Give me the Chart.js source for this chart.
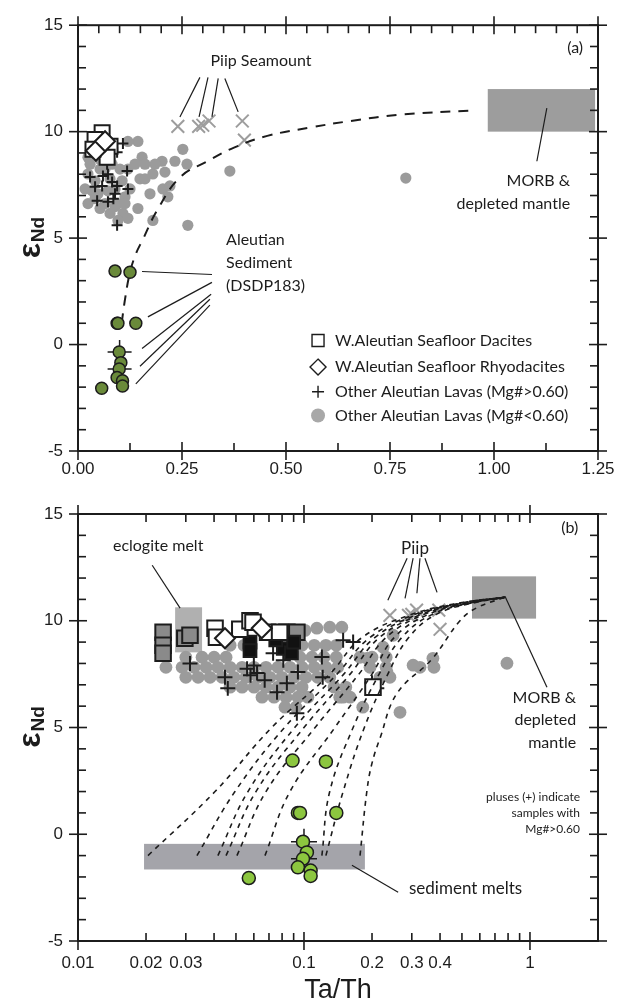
<!DOCTYPE html>
<html>
<head>
<meta charset="utf-8">
<script src="https://cdn.jsdelivr.net/npm/chart.js@4/dist/chart.umd.min.js"></script>
<style>
  html, body { margin: 0; background: #fff; }
  #wrap { position: relative; width: 627px; height: 1004px; }
  canvas { position: absolute; left: 0; }
</style>
</head>
<body>
<div id="wrap">
  <canvas id="chartA" width="627" height="480" style="top:0"></canvas>
  <canvas id="chartB" width="627" height="524" style="top:480px"></canvas>
</div>
<script>
// ── data ─────────────────────────────────────────────────────────

// shared between both panels
const sed_x = [0.089, 0.125, 0.094, 0.096, 0.139, 0.099, 0.103, 0.099, 0.094, 0.107, 0.107, 0.057];
const sed_y = [3.45, 3.4, 1.0, 1.0, 1.0, -0.35, -0.85, -1.15, -1.55, -1.7, -1.95, -2.05];
const sedAvg_x = [0.1, 0.1];
const sedAvg_y = [-0.35, -1.15];
const piip_x = [0.24, 0.29, 0.30, 0.315, 0.395, 0.40];
const piip_y = [10.25, 10.25, 10.3, 10.5, 10.5, 9.6];

// panel (a), linear Ta/Th
const dacA_x = [0.058, 0.041, 0.077, 0.070, 0.036];
const dacA_y = [9.95, 9.63, 9.31, 8.80, 9.17];
const rhyA_x = [0.043, 0.065];
const rhyA_y = [9.1, 9.55];
const plusA_x = [0.108, 0.094, 0.118, 0.120, 0.029, 0.060, 0.041, 0.058, 0.094, 0.089, 0.046, 0.072, 0.094, 0.072, 0.070, 0.082, 0.085];
const plusA_y = [9.44, 9.03, 8.15, 7.31, 7.87, 7.92, 7.41, 7.45, 7.45, 7.08, 6.76, 6.71, 5.60, 8.0, 8.47, 7.64, 6.85];
const grayA_x = [0.144, 0.120, 0.252, 0.154, 0.202, 0.233, 0.262, 0.180, 0.209, 0.149, 0.204, 0.221, 0.216, 0.144, 0.180,
  0.264, 0.108, 0.096, 0.048, 0.041, 0.065, 0.106, 0.082, 0.113, 0.024, 0.034, 0.072, 0.096, 0.120, 0.137, 0.089,
  0.053, 0.077, 0.024, 0.365, 0.788,
  0.029, 0.053, 0.041, 0.053, 0.077, 0.113, 0.125, 0.101, 0.065, 0.089, 0.017, 0.024, 0.120, 0.173, 0.161, 0.185, 0.161];
const grayA_y = [9.54, 9.54, 9.17, 8.80, 8.61, 8.61, 8.47, 8.01, 8.10, 7.78, 7.31, 7.45, 6.94, 6.39, 5.83,
  5.60, 6.16, 5.83, 7.08, 7.69, 6.62, 7.69, 8.47, 6.94, 8.01, 7.22, 7.22, 6.62, 8.24, 8.47, 6.48,
  8.24, 7.78, 8.8, 8.15, 7.82,
  8.47, 8.70, 6.85, 6.39, 6.16, 6.62, 7.31, 8.24, 8.24, 7.31, 7.31, 6.62, 5.93, 7.08, 7.78, 8.47, 8.47];
const mixA_x = [0.105, 0.112, 0.125, 0.14, 0.155, 0.19, 0.245, 0.31, 0.375, 0.455, 0.56, 0.655, 0.775, 0.95];
const mixA_y = [1.0, 2.0, 3.4, 4.3, 4.9, 6.3, 7.85, 8.6, 9.25, 9.8, 10.2, 10.5, 10.8, 11.0];
const morbBoxA = [0.985, 1.243, 10, 12];   // x0, x1, y0, y1

// panel (b), log Ta/Th
const dacB_x = [0.0404, 0.041, 0.052, 0.0577, 0.0595, 0.069, 0.078, 0.202];
const dacB_y = [9.65, 9.23, 9.6, 10.0, 9.93, 9.46, 9.46, 6.89];
const dacGrayB_x = [0.0238, 0.0238, 0.0238, 0.0297, 0.0313, 0.084, 0.093];
const dacGrayB_y = [9.46, 8.85, 8.48, 9.18, 9.32, 9.46, 9.46];
const dacBlackB_x = [0.0577, 0.0577, 0.081, 0.088, 0.09, 0.075];
const dacBlackB_y = [9.0, 8.6, 8.7, 8.5, 9.0, 9.1];
const rhyB_x = [0.0447, 0.065];
const rhyB_y = [9.18, 9.65];
const plusB_x = [0.0313, 0.0447, 0.046, 0.056, 0.060, 0.062, 0.058, 0.067, 0.076, 0.084, 0.094,
  0.081, 0.073, 0.093, 0.12, 0.121, 0.149, 0.165, 0.2, 0.21];
const plusB_y = [8.0, 7.35, 6.84, 7.75, 7.9, 7.55, 7.45, 7.21, 6.65, 7.07, 7.6,
  8.15, 8.48, 5.67, 8.3, 7.35, 9.09, 9.0, 7.1, 6.84];
const grayB_x = [
  0.0471, 0.0543, 0.098, 0.111, 0.125, 0.139,
  0.030, 0.0354, 0.040, 0.0452, 0.096, 0.1085, 0.1226, 0.139, 0.177, 0.200, 0.231,
  0.0245, 0.0289, 0.0326, 0.0369, 0.0416, 0.0471, 0.0532, 0.0601, 0.0679, 0.0767, 0.0867, 0.098, 0.111, 0.125,
  0.141, 0.196, 0.231, 0.326, 0.376,
  0.030, 0.034, 0.0384, 0.0434, 0.049, 0.0554, 0.0626, 0.0707, 0.0799, 0.0903, 0.102, 0.115, 0.130, 0.217, 0.240,
  0.0471, 0.0532, 0.0601, 0.0679, 0.0767, 0.0867, 0.098, 0.136, 0.153,
  0.0652, 0.0737, 0.0833, 0.0941, 0.104, 0.144, 0.160,
  0.0824, 0.0922,
  0.248, 0.224, 0.190, 0.304, 0.372, 0.233, 0.149, 0.182, 0.266,
  0.101, 0.114, 0.130, 0.147, 0.791];
const grayB_y = [
  8.85, 8.85, 8.85, 8.85, 8.85, 8.85,
  8.29, 8.29, 8.29, 8.29, 8.29, 8.29, 8.29, 8.29, 8.29, 8.29, 8.29,
  7.82, 7.82, 7.82, 7.82, 7.82, 7.82, 7.82, 7.82, 7.82, 7.82, 7.82, 7.82, 7.82, 7.82,
  7.82, 7.82, 7.82, 7.82, 7.82,
  7.35, 7.35, 7.35, 7.35, 7.35, 7.35, 7.35, 7.35, 7.35, 7.35, 7.35, 7.35, 7.35, 7.35, 7.35,
  6.89, 6.89, 6.89, 6.89, 6.89, 6.89, 6.89, 6.89, 6.89,
  6.42, 6.42, 6.42, 6.42, 6.42, 6.42, 6.42,
  5.95, 5.95,
  9.32, 8.76, 8.24, 7.92, 8.24, 7.59, 6.42, 5.95, 5.71,
  9.55, 9.65, 9.70, 9.70, 8.01];
// mixing curves: sediment melt -> MORB, sharing these εNd levels
const mixB_y = [-1, 2, 5, 7.5, 9.2, 10.3, 10.85, 11.1];
const mixB1_x = [0.0204, 0.0404, 0.072, 0.13, 0.18, 0.30, 0.50, 0.775];
const mixB2_x = [0.0336, 0.0495, 0.082, 0.14, 0.195, 0.31, 0.51, 0.775];
const mixB3_x = [0.0416, 0.0565, 0.091, 0.15, 0.205, 0.32, 0.52, 0.775];
const mixB4_x = [0.0452, 0.0613, 0.100, 0.16, 0.215, 0.33, 0.53, 0.775];
const mixB5_x = [0.0505, 0.0679, 0.112, 0.175, 0.23, 0.34, 0.54, 0.775];
const mixB6_x = [0.0672, 0.0867, 0.137, 0.20, 0.25, 0.355, 0.55, 0.775];
const mixB7_x = [0.120, 0.130, 0.165, 0.215, 0.27, 0.37, 0.56, 0.775];
const mixB8_x = [0.125, 0.149, 0.185, 0.235, 0.29, 0.385, 0.57, 0.775];
const mixB9_x = [0.177, 0.19, 0.20, 0.217, 0.258, 0.368, 0.49, 0.58, 0.775];
const mixB9_y = [-1, 2.06, 3.33, 4.5, 6.6, 8.2, 10.0, 10.6, 11.1];
const eclogiteBoxB = [0.0269, 0.0354, 8.52, 10.63];
const morbBoxB = [0.554, 1.064, 10.1, 12.08];
const sedMeltBoxB = [0.0196, 0.186, -1.65, -0.45];

// axis ticks
const yTicks = [15, 10, 5, 0, -5];
const xLabelsB = [0.01, 0.02, 0.03, 0.1, 0.2, 0.3, 0.4, 1];

// ── helpers ──────────────────────────────────────────────────────

const pts = (xs, ys) => xs.map((x, i) => ({ x, y: ys[i] }));
const range = (a, b, step) => { const out = []; for (let v = a; v <= b + 1e-9; v += step) out.push(+v.toFixed(4)); return out; };
const INK = "#1c1c1c";
const NOTE_FONT = "Lato";

// frame on all four sides, ticks pointing in, major ticks crossing the line
const frameTicks = {
  id: "frameTicks",
  afterDatasetsDraw(chart, _args, o) {
    const { ctx, chartArea: a, scales: { x, y } } = chart;
    const seg = (x0, y0, x1, y1) => { ctx.beginPath(); ctx.moveTo(x0, y0); ctx.lineTo(x1, y1); ctx.stroke(); };
    ctx.save();
    ctx.strokeStyle = INK;
    ctx.lineWidth = 2;
    ctx.strokeRect(a.left, a.top, a.right - a.left, a.bottom - a.top);
    ctx.lineWidth = 1.6;
    const L = 8, M = 9;
    o.xMinorBottom.forEach((v) => { const p = x.getPixelForValue(v); seg(p, a.bottom, p, a.bottom - L); });
    o.xMinorTop.forEach((v) => { const p = x.getPixelForValue(v); seg(p, a.top, p, a.top + L); });
    o.xMajor.forEach((v) => {
      const p = x.getPixelForValue(v);
      seg(p, a.bottom + M, p, a.bottom - M);
      seg(p, a.top - M, p, a.top + M);
    });
    o.yMinor.forEach((v) => { const p = y.getPixelForValue(v); seg(a.left, p, a.left + L, p); seg(a.right, p, a.right - L, p); });
    o.yMajor.forEach((v) => {
      const p = y.getPixelForValue(v);
      seg(a.left - M, p, a.left + M, p);
      seg(a.right - M, p, a.right + M, p);
    });
    ctx.restore();
  },
};

// shaded end-member fields, under the points
const fields = {
  id: "fields",
  beforeDatasetsDraw(chart, _args, o) {
    const { ctx, scales: { x, y } } = chart;
    ctx.save();
    o.boxes.forEach(({ ext, color }) => {
      const x0 = x.getPixelForValue(ext[0]), x1 = x.getPixelForValue(ext[1]);
      const y0 = y.getPixelForValue(ext[2]), y1 = y.getPixelForValue(ext[3]);
      ctx.fillStyle = color;
      ctx.fillRect(x0, y1, x1 - x0, y0 - y1);
    });
    ctx.restore();
  },
};

// labels + leader lines, placed in data units
const notes = {
  id: "notes",
  afterDatasetsDraw(chart, _args, o) {
    const { ctx, scales: { x, y } } = chart;
    ctx.save();
    ctx.strokeStyle = INK;
    ctx.lineWidth = 1.2;
    o.leaders.forEach(([x0, y0, x1, y1]) => {
      ctx.beginPath();
      ctx.moveTo(x.getPixelForValue(x0), y.getPixelForValue(y0));
      ctx.lineTo(x.getPixelForValue(x1), y.getPixelForValue(y1));
      ctx.stroke();
    });
    ctx.fillStyle = INK;
    ctx.textBaseline = "middle";
    o.texts.forEach(([str, vx, vy, align, size]) => {
      ctx.font = `${size}px ${NOTE_FONT}`;
      ctx.textAlign = align;
      ctx.fillText(str, x.getPixelForValue(vx), y.getPixelForValue(vy));
    });
    (o.legend || []).forEach(({ sym, label, y: vy }) => {
      const sx = x.getPixelForValue(o.legendX[0]);
      const tx = x.getPixelForValue(o.legendX[1]);
      const py = y.getPixelForValue(vy);
      ctx.lineWidth = 1.4;
      ctx.strokeStyle = INK;
      ctx.beginPath();
      if (sym === "square") ctx.rect(sx - 6, py - 6, 12, 12);
      if (sym === "diamond") { ctx.moveTo(sx, py - 8); ctx.lineTo(sx + 8, py); ctx.lineTo(sx, py + 8); ctx.lineTo(sx - 8, py); ctx.closePath(); }
      if (sym === "plus") { ctx.moveTo(sx - 6, py); ctx.lineTo(sx + 6, py); ctx.moveTo(sx, py - 6); ctx.lineTo(sx, py + 6); }
      if (sym === "dot") { ctx.fillStyle = "#a8a8a8"; ctx.arc(sx, py, 7, 0, Math.PI * 2); ctx.fill(); }
      else ctx.stroke();
      ctx.fillStyle = INK;
      ctx.font = `16px ${NOTE_FONT}`;
      ctx.textAlign = "left";
      ctx.fillText(label, tx, py);
    });
    ctx.restore();
  },
};

// εNd with a subscript, rotated
const yTitle = {
  id: "yTitle",
  afterDraw(chart) {
    const { ctx, chartArea: a } = chart;
    const cy = (a.top + a.bottom) / 2;
    ctx.save();
    ctx.translate(40, cy);
    ctx.rotate(-Math.PI / 2);
    ctx.fillStyle = INK;
    ctx.textBaseline = "alphabetic";
    ctx.font = "bold 32px 'Liberation Sans'";
    const we = ctx.measureText("ε").width;
    ctx.font = "bold 19px 'Liberation Sans'";
    const wn = ctx.measureText("Nd").width;
    const start = -(we + wn) / 2;
    ctx.font = "bold 32px 'Liberation Sans'";
    ctx.textAlign = "left";
    ctx.fillText("ε", start, 0);
    ctx.font = "bold 19px 'Liberation Sans'";
    ctx.fillText("Nd", start + we + 1, 4);
    ctx.restore();
  },
};

const tickFont = { family: "'Liberation Sans', Arial, sans-serif", size: 17 };

function yScale() {
  return {
    min: -5, max: 15,
    afterBuildTicks: (s) => { s.ticks = yTicks.map((v) => ({ value: v })); },
    afterFit: (s) => { s.width = 78; },
    grid: { display: false, drawTicks: false },
    border: { display: false },
    ticks: { color: INK, font: tickFont, padding: 15 },
  };
}

function scatterSet(data, style, order) {
  return Object.assign({ data, order, borderWidth: 0, pointHoverRadius: 0 }, style);
}

function curve(data, dash, width, order) {
  return { data, order, showLine: true, pointRadius: 0, borderColor: INK, borderWidth: width, borderDash: dash, tension: 0.4, fill: false };
}

// ── panel (a) ────────────────────────────────────────────────────

new Chart(document.getElementById("chartA"), {
  type: "scatter",
  data: {
    datasets: [
      scatterSet(pts(sed_x, sed_y), { pointStyle: "circle", pointRadius: 6, backgroundColor: "#6a8a3a", borderColor: INK, borderWidth: 1.5 }, 0),
      scatterSet(pts(sedAvg_x, sedAvg_y), { pointStyle: "cross", pointRadius: 12, borderColor: INK, borderWidth: 1.5 }, 1),
      curve(pts(mixA_x, mixA_y), [10, 8], 2, 2),
      scatterSet(pts(rhyA_x, rhyA_y), { pointStyle: "rectRot", pointRadius: 10, backgroundColor: "#fff", borderColor: INK, borderWidth: 2 }, 3),
      scatterSet(pts(dacA_x, dacA_y), { pointStyle: "rect", pointRadius: 10.6, backgroundColor: "#fff", borderColor: INK, borderWidth: 2 }, 4),
      scatterSet(pts(plusA_x, plusA_y), { pointStyle: "cross", pointRadius: 5.5, borderColor: INK, borderWidth: 2 }, 5),
      scatterSet(pts(piip_x, piip_y), { pointStyle: "crossRot", pointRadius: 9, borderColor: "#9d9d9d", borderWidth: 2 }, 6),
      scatterSet(pts(grayA_x, grayA_y), { pointStyle: "circle", pointRadius: 5.6, backgroundColor: "#9b9b9b" }, 7),
    ],
  },
  options: {
    responsive: false,
    animation: false,
    events: [],
    layout: { padding: { top: 19, right: 29, left: 0, bottom: 0 } },
    scales: {
      x: {
        type: "linear", min: 0, max: 1.25,
        afterBuildTicks: (s) => { s.ticks = range(0, 1.25, 0.25).map((v) => ({ value: v })); },
        afterFit: (s) => { s.height = 29; },
        grid: { display: false, drawTicks: false },
        border: { display: false },
        ticks: { color: INK, font: tickFont, padding: 8, maxRotation: 0, callback: (v) => Number(v).toFixed(2) },
      },
      y: yScale(),
    },
    plugins: {
      legend: { display: false },
      tooltip: { enabled: false },
      frameTicks: {
        xMajor: range(0, 1.25, 0.25),
        xMinorBottom: range(0.125, 1.125, 0.25),
        xMinorTop: range(0.05, 1.2, 0.05).filter((v) => Math.abs(v / 0.25 - Math.round(v / 0.25)) > 1e-6),
        yMajor: [15, 10, 5, 0, -5],
        yMinor: range(-4, 14, 1).filter((v) => v % 5 !== 0),
      },
      fields: { boxes: [{ ext: morbBoxA, color: "#9d9d9d" }] },
      notes: {
        texts: [
          ["Piip Seamount", 0.44, 13.33, "center", 16],
          ["(a)", 1.195, 13.94, "center", 16],
          ["MORB &", 1.183, 7.69, "right", 16],
          ["depleted mantle", 1.183, 6.62, "right", 16],
          ["Aleutian", 0.356, 4.91, "left", 16],
          ["Sediment", 0.356, 3.84, "left", 16],
          ["(DSDP183)", 0.356, 2.78, "left", 16],
        ],
        leaders: [
          [0.293, 12.55, 0.245, 10.69], [0.3125, 12.55, 0.291, 10.69], [0.337, 12.5, 0.322, 10.69], [0.353, 12.5, 0.385, 10.93],
          [1.127, 11.11, 1.103, 8.61],
          [0.322, 3.29, 0.154, 3.43], [0.322, 2.92, 0.168, 1.3], [0.32, 2.36, 0.154, -0.19],
          [0.317, 2.13, 0.149, -1.02], [0.317, 1.85, 0.139, -1.85],
        ],
        legendX: [0.577, 0.618],
        legend: [
          { sym: "square", label: "W.Aleutian Seafloor Dacites", y: 0.19 },
          { sym: "diamond", label: "W.Aleutian Seafloor Rhyodacites", y: -1.06 },
          { sym: "plus", label: "Other Aleutian Lavas (Mg#>0.60)", y: -2.22 },
          { sym: "dot", label: "Other Aleutian Lavas (Mg#<0.60)", y: -3.33 },
        ],
      },
    },
  },
  plugins: [fields, notes, frameTicks, yTitle],
});

// ── panel (b) ────────────────────────────────────────────────────

const mixDash = [5, 5];
new Chart(document.getElementById("chartB"), {
  type: "scatter",
  data: {
    datasets: [
      scatterSet(pts(sed_x, sed_y), { pointStyle: "circle", pointRadius: 6.5, backgroundColor: "#8cc63f", borderColor: INK, borderWidth: 1.5 }, 0),
      scatterSet(pts(sedAvg_x, sedAvg_y), { pointStyle: "cross", pointRadius: 13, borderColor: INK, borderWidth: 1.5 }, 1),
      curve(pts(mixB1_x, mixB_y), mixDash, 1.6, 2),
      curve(pts(mixB2_x, mixB_y), mixDash, 1.6, 2),
      curve(pts(mixB3_x, mixB_y), mixDash, 1.6, 2),
      curve(pts(mixB4_x, mixB_y), mixDash, 1.6, 2),
      curve(pts(mixB5_x, mixB_y), mixDash, 1.6, 2),
      curve(pts(mixB6_x, mixB_y), mixDash, 1.6, 2),
      curve(pts(mixB7_x, mixB_y), mixDash, 1.6, 2),
      curve(pts(mixB8_x, mixB_y), mixDash, 1.6, 2),
      curve(pts(mixB9_x, mixB9_y), mixDash, 1.6, 2),
      scatterSet(pts(rhyB_x, rhyB_y), { pointStyle: "rectRot", pointRadius: 10, backgroundColor: "#fff", borderColor: INK, borderWidth: 2 }, 3),
      scatterSet(pts(dacB_x, dacB_y), { pointStyle: "rect", pointRadius: 11, backgroundColor: "#fff", borderColor: INK, borderWidth: 2 }, 4),
      scatterSet(pts(dacBlackB_x, dacBlackB_y), { pointStyle: "rect", pointRadius: 9, backgroundColor: "#111", borderColor: INK, borderWidth: 2 }, 4),
      scatterSet(pts(dacGrayB_x, dacGrayB_y), { pointStyle: "rect", pointRadius: 11, backgroundColor: "#8a8a8a", borderColor: INK, borderWidth: 2 }, 4),
      scatterSet(pts(plusB_x, plusB_y), { pointStyle: "cross", pointRadius: 7.5, borderColor: INK, borderWidth: 2 }, 5),
      scatterSet(pts(piip_x, piip_y), { pointStyle: "crossRot", pointRadius: 9, borderColor: "#9d9d9d", borderWidth: 2 }, 6),
      scatterSet(pts(grayB_x, grayB_y), { pointStyle: "circle", pointRadius: 6.4, backgroundColor: "#9b9b9b" }, 7),
    ],
  },
  options: {
    responsive: false,
    animation: false,
    events: [],
    layout: { padding: { top: 34, right: 29, left: 0, bottom: 0 } },
    scales: {
      x: {
        type: "logarithmic", min: 0.01, max: 2,
        afterBuildTicks: (s) => { s.ticks = xLabelsB.map((v) => ({ value: v })); },
        afterFit: (s) => { s.height = 63; },
        grid: { display: false, drawTicks: false },
        border: { display: false },
        ticks: { color: INK, font: tickFont, padding: 12, maxRotation: 0, autoSkip: false, callback: (v) => String(v) },
        title: { display: true, text: "Ta/Th", color: INK, font: { family: "'Liberation Sans', Arial, sans-serif", size: 27 }, padding: { top: 0, bottom: -3 } },
      },
      y: yScale(),
    },
    plugins: {
      legend: { display: false },
      tooltip: { enabled: false },
      frameTicks: {
        xMajor: [0.01, 0.1, 1],
        xMinorBottom: [0.02, 0.03, 0.04, 0.05, 0.06, 0.07, 0.08, 0.09, 0.2, 0.3, 0.4, 0.5, 0.6, 0.7, 0.8, 0.9],
        xMinorTop: [0.02, 0.03, 0.04, 0.05, 0.06, 0.07, 0.08, 0.09, 0.2, 0.3, 0.4, 0.5, 0.6, 0.7, 0.8, 0.9],
        yMajor: [15, 10, 5, 0, -5],
        yMinor: range(-4, 14, 1).filter((v) => v % 5 !== 0),
      },
      fields: {
        boxes: [
          { ext: sedMeltBoxB, color: "#a4a4aa" },
          { ext: eclogiteBoxB, color: "#b0b0b0" },
          { ext: morbBoxB, color: "#9d9d9d" },
        ],
      },
      notes: {
        texts: [
          ["eclogite melt", 0.01428, 13.49, "left", 16],
          ["Piip", 0.31, 13.4, "center", 17],
          ["(b)", 1.5, 14.33, "center", 16],
          ["MORB &", 1.6, 6.37, "right", 16],
          ["depleted", 1.6, 5.34, "right", 16],
          ["mantle", 1.6, 4.26, "right", 16],
          ["pluses (+) indicate", 1.665, 1.73, "right", 12],
          ["samples with", 1.665, 0.98, "right", 12],
          ["Mg#>0.60", 1.665, 0.23, "right", 12],
          ["sediment melts", 0.2915, -2.53, "left", 17],
        ],
        leaders: [
          [0.0213, 12.6, 0.0283, 10.59],
          [0.286, 12.93, 0.235, 10.96], [0.304, 12.93, 0.280, 11.05], [0.326, 12.93, 0.316, 11.29], [0.343, 12.93, 0.388, 11.33],
          [0.775, 11.15, 1.189, 6.89],
          [0.261, -2.72, 0.163, -1.45],
        ],
      },
    },
  },
  plugins: [fields, notes, frameTicks, yTitle],
});
</script>
</body>
</html>
